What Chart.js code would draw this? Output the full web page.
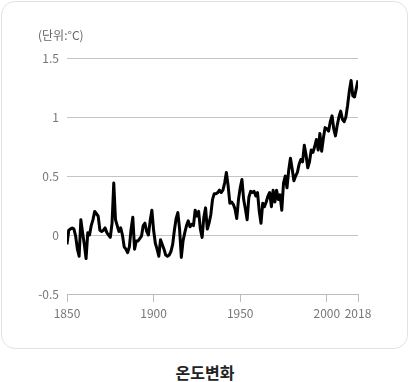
<!DOCTYPE html>
<html>
<head>
<meta charset="utf-8">
<script src="https://cdn.jsdelivr.net/npm/chart.js@4"></script>
<style>
  html,body{margin:0;padding:0;background:#fff;}
  body{width:410px;height:382px;position:relative;overflow:hidden;font-family:"Noto Sans CJK KR","Noto Sans",sans-serif;}
  #box{position:absolute;left:1px;top:1px;width:405px;height:346px;border:1px solid #e3e3e3;border-radius:14px;}
  #wrap{position:absolute;left:0;top:0;width:410px;height:350px;}
  #unit{position:absolute;left:38px;top:26px;font-size:12px;color:#666;line-height:18px;}
  #caption{position:absolute;left:0;top:361px;width:410px;text-align:center;font-size:16px;font-weight:700;color:#222;line-height:22px;}
</style>
</head>
<body>
<div id="box"></div>
<div id="wrap"><canvas id="c" width="410" height="350"></canvas></div>
<div id="unit">(단위:°C)</div>
<div id="caption">온도변화</div>
<script>
const years = [];
for (let y = 1850; y <= 2018; y++) years.push(y);
const temps = [
  -0.08, 0.04, 0.05, 0.06, 0.05, -0.01, -0.12, -0.18, 0.13, 0.02,   // 1850-1859
  -0.08, -0.20, 0.02, 0.00, 0.08, 0.13, 0.20, 0.18, 0.16, 0.04,     // 1860-1869
  0.03, 0.04, 0.06, 0.02, 0.00, -0.02, 0.10, 0.44, 0.13, 0.08,      // 1870-1879
  0.03, 0.06, 0.00, -0.10, -0.12, -0.15, -0.10, 0.05, 0.15, -0.12,  // 1880-1889
  -0.05, -0.05, -0.03, -0.01, 0.08, 0.10, 0.03, 0.00, 0.12, 0.21,   // 1890-1899
  0.04, -0.07, -0.12, -0.18, -0.04, -0.08, -0.12, -0.17, -0.18, -0.17, // 1900-1909
  -0.14, -0.08, 0.04, 0.14, 0.19, 0.05, -0.19, -0.05, 0.02, 0.08,   // 1910-1919
  0.12, 0.07, 0.09, 0.08, 0.21, 0.16, 0.20, 0.05, -0.02, 0.15,      // 1920-1929
  0.23, 0.05, 0.10, 0.17, 0.30, 0.35, 0.35, 0.36, 0.38, 0.36,       // 1930-1939
  0.38, 0.44, 0.53, 0.42, 0.27, 0.28, 0.26, 0.22, 0.14, 0.30,       // 1940-1949
  0.40, 0.47, 0.30, 0.22, 0.13, 0.32, 0.37, 0.36, 0.37, 0.33,       // 1950-1959
  0.36, 0.20, 0.10, 0.27, 0.24, 0.28, 0.33, 0.36, 0.24, 0.38,       // 1960-1969
  0.28, 0.38, 0.30, 0.34, 0.21, 0.44, 0.50, 0.40, 0.55, 0.65,       // 1970-1979
  0.56, 0.46, 0.50, 0.53, 0.60, 0.64, 0.62, 0.76, 0.68, 0.57,       // 1980-1989
  0.62, 0.72, 0.70, 0.75, 0.81, 0.72, 0.86, 0.71, 0.82, 0.91,       // 1990-1999
  0.90, 0.88, 0.96, 1.01, 0.90, 0.84, 0.93, 1.00, 1.05, 0.98,       // 2000-2009
  0.96, 1.00, 1.10, 1.22, 1.31, 1.18, 1.17, 1.24, 1.31              // 2010-2018
];
const xTicks = [1850, 1900, 1950, 2000, 2018];
const yTicks = [-0.5, 0, 0.5, 1, 1.5];

const points = years.map((y, i) => ({x: y, y: temps[i]}));
const tickFont = {family: "'Noto Sans CJK KR', 'Noto Sans', sans-serif", size: 12};

new Chart(document.getElementById('c'), {
  type: 'line',
  data: {
    datasets: [{
      data: points,
      borderColor: '#000',
      borderWidth: 3,
      pointRadius: 0,
      tension: 0,
      fill: false,
      borderJoinStyle: 'round'
    }]
  },
  options: {
    responsive: false,
    animation: false,
    events: [],
    layout: {padding: {left: 0, right: 52, top: 58, bottom: 26}},
    plugins: {legend: {display: false}, tooltip: {enabled: false}, title: {display: false}},
    scales: {
      x: {
        type: 'linear',
        min: 1850,
        max: 2018,
        afterBuildTicks: s => { s.ticks = xTicks.map(v => ({value: v})); },
        afterFit: s => { s.height = 30; },
        ticks: {
          color: '#777',
          font: tickFont,
          padding: 4,
          maxRotation: 0,
          autoSkip: false,
          callback: v => String(v)
        },
        grid: {drawOnChartArea: false, drawTicks: true, tickLength: 8, color: '#bdbdbd', lineWidth: 1},
        border: {display: true, color: '#bdbdbd', width: 1}
      },
      y: {
        min: -0.5,
        max: 1.5,
        afterBuildTicks: s => { s.ticks = yTicks.map(v => ({value: v})); },
        afterFit: s => { s.width = 67; },
        ticks: {
          color: '#777',
          font: tickFont,
          padding: 8,
          callback: v => String(v)
        },
        grid: {color: '#c4c4c4', lineWidth: 1, drawTicks: false},
        border: {display: false}
      }
    }
  }
});
</script>
</body>
</html>
